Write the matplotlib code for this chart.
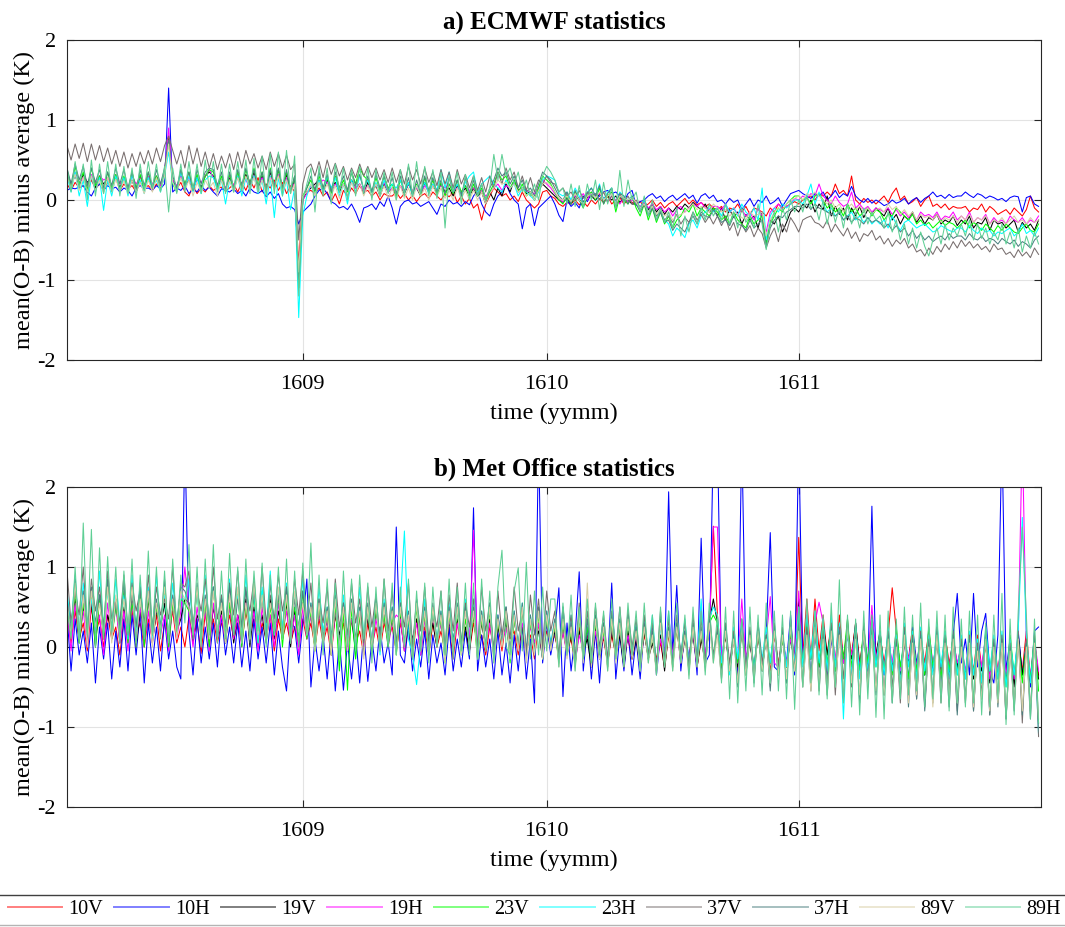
import numpy as np
import matplotlib
matplotlib.use("Agg")
import matplotlib.pyplot as plt
from matplotlib.lines import Line2D

plt.rcParams['font.family'] = ['Liberation Serif', 'DejaVu Serif']
plt.rcParams['axes.unicode_minus'] = False

channels = ['10V', '10H', '19V', '19H', '23V', '23H', '37V', '37H', '89V', '89H']
colors = ['#ff0000', '#0000ff', '#000000', '#ff00ff', '#00ff00', '#00ffff',
          '#786e6e', '#4d8080', '#d9cfa6', '#5fcf95']
tick_days = [31, 61, 92]
tick_labels = ['1609', '1610', '1611']

# ---- panel a (ECMWF), values in 0.01 K, 12-hourly from 2 Aug ----
A_10V = [20,12,22,15,18,10,25,14,20,12,22,16,28,12,20,14,18,10,22,15,
         18,12,20,14,30,80,20,14,22,10,5,18,8,15,10,18,12,15,16,12,
         15,20,10,22,12,25,15,28,10,20,15,25,12,22,8,18,10,-80,5,10,
         12,8,15,5,10,-2,8,-5,12,5,15,8,18,10,12,5,10,0,8,5,
         5,10,2,8,0,6,-2,5,8,2,10,5,0,8,4,10,-3,5,-5,2,
         -10,-5,-25,-5,5,15,10,5,8,0,5,-2,10,0,-5,-10,-5,10,12,5,
         2,-5,-8,-3,-5,0,-6,-2,-8,0,-5,2,-3,5,-5,0,3,-5,0,-3,
         -5,-2,-8,-5,0,-8,-3,-10,-5,-2,-8,-3,2,-5,0,-6,-3,-8,-5,-10,
         -12,-8,-15,-10,-12,-5,-15,-8,-18,-10,-12,-15,-20,-10,-15,-5,-10,-8,-5,-2,
         -5,0,2,5,0,8,5,10,5,20,8,12,5,30,0,-5,2,-3,0,-5,
         0,5,-3,8,15,0,5,-5,-2,3,-8,0,5,-8,-5,-10,-5,-12,-8,-10,
         -10,-8,-15,-10,-12,-5,-15,-8,-12,-18,-15,-12,-18,-10,-15,-20,-12,5,-10,-15]
A_10H = [12,15,14,16,18,10,5,15,20,12,18,14,16,10,15,12,5,15,18,14,
         15,12,18,14,20,140,10,15,12,18,8,14,10,18,12,16,10,5,14,12,
         10,14,8,12,5,15,10,8,12,4,10,2,8,-5,-10,-8,-12,-30,-15,-10,
         -5,5,12,15,8,-2,-5,-10,-8,-12,-5,-15,-28,-10,-8,-5,-12,-2,-8,5,
         -10,-30,-8,-2,0,-5,-3,-8,-5,-2,-10,-18,-5,-8,0,-5,-3,-8,-2,-6,
         5,12,-5,-15,-20,-5,5,10,20,8,0,-5,-36,-10,-5,-32,-10,-5,0,5,
         -5,-19,-27,0,-8,-3,-10,5,-2,8,0,5,10,12,8,10,5,-2,8,12,
         -7,-2,0,5,8,2,5,-2,3,6,0,4,8,2,6,-4,5,8,2,6,
         -2,0,-5,2,-3,0,-12,-5,2,-8,0,-3,5,-5,-2,3,-8,0,8,10,
         12,8,5,2,8,5,10,0,5,12,3,8,5,17,5,0,-3,2,-4,0,
         -3,-7,-5,0,-4,-2,2,-5,0,3,-3,2,5,10,4,6,2,7,3,5,
         5,10,6,3,8,6,2,5,3,0,2,-2,3,5,4,-15,3,5,-5,-8]
A_19V = [35,20,30,18,32,22,28,15,30,20,26,18,30,15,28,12,25,10,30,18,
         28,15,30,18,35,75,25,15,30,18,25,12,28,15,30,35,30,15,25,12,
         28,12,30,15,32,18,35,15,30,12,35,18,38,15,32,10,25,-100,0,10,
         15,20,25,10,25,15,22,10,20,12,25,15,20,8,22,10,18,5,20,10,
         15,5,18,8,20,10,15,5,22,10,18,8,20,10,15,5,18,8,15,5,
         15,5,10,-5,10,0,15,5,20,10,25,12,15,8,10,0,12,20,15,10,
         5,0,-3,2,-5,5,0,-2,3,5,0,8,2,5,0,5,-3,2,0,-5,
         -5,-10,0,-12,-5,-15,-8,-18,-10,-15,-8,-12,-5,-10,-3,-8,-12,-5,-15,-10,
         -20,-10,-25,-12,-22,-15,-30,-18,-25,-20,-35,-15,-55,-25,-30,-20,-40,-28,-15,-10,
         -15,-5,-10,0,-15,-5,-12,5,-20,-8,-18,-10,-25,-10,-20,-8,-22,-12,-18,-10,
         -15,-20,-10,-25,-18,-30,-20,-25,-15,-28,-20,-30,-22,-25,-18,-30,-25,-28,-20,-32,
         -25,-30,-20,-35,-28,-30,-22,-38,-25,-30,-28,-35,-30,-25,-40,-28,-35,-30,-38,-25]
A_19H = [30,18,35,22,28,15,32,20,30,25,28,18,32,20,26,15,30,20,28,18,
         30,20,28,18,35,90,25,18,30,20,28,15,25,22,30,38,28,20,26,15,
         30,18,28,20,25,15,30,18,28,15,30,20,32,15,28,10,22,-100,0,8,
         18,15,20,25,22,10,20,15,18,12,22,15,20,10,18,12,20,15,22,10,
         15,8,18,10,20,12,15,8,18,10,20,12,18,15,20,12,15,10,18,12,
         15,8,12,5,10,15,20,12,18,15,22,10,15,12,10,8,15,25,20,15,
         8,2,-3,5,0,5,2,8,0,10,5,8,2,-2,5,0,-5,3,-2,0,
         -5,-8,-3,-10,-5,-12,-8,-15,-10,-20,-12,-8,-15,-10,-5,-8,-3,-10,-12,-8,
         -8,-12,-5,-15,-10,-18,-12,-20,-15,-25,-10,-20,-40,-15,-10,-5,-12,-8,-5,2,
         0,5,2,8,5,20,5,0,-5,5,-3,-8,-5,10,-10,-5,-12,-8,-15,-10,
         -12,-15,-10,-18,-12,-20,-15,-22,-18,-25,-15,-20,-18,-22,-15,-25,-20,-22,-15,-25,
         -20,-25,-15,-28,-22,-25,-18,-30,-22,-28,-25,-30,-20,-25,-28,-22,-30,-25,-28,-20]
A_23V = [38,15,42,20,35,12,40,18,30,10,35,15,32,12,30,10,35,15,32,12,
         35,15,30,12,32,75,20,10,38,20,35,15,32,12,30,38,35,15,30,10,
         32,12,35,15,38,20,40,18,35,12,40,15,38,12,35,10,30,-110,5,15,
         25,10,30,15,28,8,30,12,25,10,35,20,40,30,25,10,28,12,30,15,
         20,5,25,10,22,8,20,5,28,10,25,8,22,5,20,8,25,10,18,5,
         20,5,15,0,10,20,35,25,30,15,25,10,20,5,10,0,15,30,25,20,
         10,0,-5,5,-5,10,0,-10,5,10,0,15,-5,5,10,-15,5,0,-5,5,
         -10,-20,-5,-25,-10,-28,-15,-30,-20,-35,-25,-20,-10,-15,-5,-20,-10,-15,-20,-10,
         -15,-25,-20,-30,-15,-25,-30,-35,-20,-30,-25,-20,-55,-30,-20,-10,-15,-5,0,5,
         5,0,3,-5,5,8,0,-10,-5,-15,-10,-20,-5,-15,-10,-20,-15,-10,-20,-12,
         -15,-25,-18,-20,-10,-15,-20,-25,-18,-30,-25,-32,-28,-35,-30,-25,-32,-28,-30,-35,
         -30,-25,-35,-28,-32,-38,-30,-35,-40,-32,-38,-30,-35,-40,-42,-35,-30,-38,-40,-30]
A_23H = [30,10,35,5,25,-8,30,10,28,-13,25,5,30,12,28,5,32,10,25,8,
         28,15,25,10,30,60,22,12,35,15,30,10,28,8,25,30,28,12,25,-5,
         25,10,30,5,28,12,30,8,25,-5,30,-22,28,5,25,-12,15,-147,-20,5,
         20,5,25,10,30,15,28,5,20,-5,25,10,30,15,25,10,22,5,25,10,
         20,15,25,10,22,5,18,10,22,8,20,12,38,15,35,10,20,5,22,30,
         35,10,20,25,30,20,15,10,25,15,20,5,15,10,5,0,10,25,30,28,
         25,8,5,10,0,15,5,-5,10,15,5,20,0,10,15,-5,10,5,0,5,
         -5,-10,0,-15,-10,-20,-15,-25,-30,-45,-35,-40,-47,-30,-25,-35,-20,-15,-10,-15,
         -10,-20,-5,-15,-10,-20,-5,-15,-20,-10,-25,15,-50,-20,-10,-15,-5,-10,-5,0,
         0,-5,5,20,-5,10,-5,-15,-10,-20,-15,-25,-20,-15,-25,-20,-28,-22,-30,-25,
         -30,-25,-35,-20,-30,-38,-28,-25,-30,-35,-32,-30,-35,-40,-38,-32,-35,-38,-40,-35,
         -35,-40,-32,-38,-42,-35,-40,-38,-45,-40,-42,-38,-35,-45,-40,-30,-42,-38,-45,-35]
A_37V = [68,50,70,52,71,48,70,50,68,48,65,45,62,42,60,40,58,42,60,45,
         62,45,65,48,68,80,62,45,62,40,68,45,65,42,60,40,58,38,55,40,
         58,38,60,40,62,45,58,40,55,38,60,42,58,40,56,38,45,-50,20,40,
         45,30,48,28,50,32,46,30,42,25,40,28,45,30,42,28,40,25,38,22,
         40,22,38,20,42,25,38,20,40,22,35,18,38,20,35,15,38,20,32,15,
         30,12,28,10,30,15,35,20,40,25,35,15,30,12,28,10,25,20,30,22,
         20,10,15,5,10,0,12,2,10,5,8,0,10,-2,5,-5,8,-3,5,-5,
         0,-10,-5,-15,-8,-20,-15,-25,-20,-28,-18,-30,-22,-28,-15,-25,-18,-28,-20,-30,
         -20,-32,-22,-38,-28,-45,-30,-40,-32,-46,-35,-42,-60,-45,-35,-52,-30,-40,-22,-30,
         -40,-25,-22,-20,-28,-30,-35,-25,-40,-30,-38,-45,-35,-48,-40,-52,-42,-45,-38,-50,
         -45,-55,-48,-58,-50,-55,-48,-60,-55,-65,-62,-70,-60,-68,-58,-65,-55,-62,-52,-60,
         -50,-58,-52,-60,-55,-62,-58,-65,-55,-62,-60,-68,-65,-72,-62,-70,-65,-72,-60,-68]
A_37H = [40,20,45,25,42,18,40,22,38,15,35,18,40,20,38,15,35,12,38,18,
         35,15,38,20,40,75,30,15,38,18,35,12,38,20,35,40,38,18,35,12,
         35,15,38,18,40,20,38,15,35,12,38,18,40,15,38,10,30,-110,0,15,
         30,12,35,15,32,10,35,15,30,12,35,18,32,12,30,10,32,15,30,12,
         28,8,30,10,28,5,25,8,30,12,28,10,25,8,28,10,25,5,28,8,
         25,5,20,0,15,25,40,30,35,20,30,15,25,10,15,5,20,35,30,25,
         15,5,0,10,-5,12,0,-8,8,15,5,18,-5,8,15,-10,8,5,-5,5,
         -5,-15,-5,-20,-10,-25,-15,-28,-25,-38,-30,-35,-40,-28,-20,-30,-15,-20,-22,-12,
         -20,-28,-25,-32,-20,-30,-32,-38,-25,-35,-30,-25,-58,-35,-25,-20,-22,-15,-12,-8,
         -8,-10,-5,-12,-5,-10,-12,-15,-18,-20,-15,-25,-20,-28,-22,-25,-30,-22,-28,-25,
         -28,-35,-30,-38,-32,-40,-35,-45,-38,-48,-42,-50,-45,-52,-48,-45,-50,-42,-48,-45,
         -45,-50,-42,-48,-50,-45,-52,-48,-50,-55,-48,-52,-55,-50,-58,-52,-55,-60,-50,-45]
A_89V = [30,15,32,12,28,10,30,12,25,8,28,10,26,12,24,8,25,10,22,8,
         25,10,28,12,30,70,22,10,28,12,25,5,22,10,25,15,22,5,25,10,
         25,10,28,12,30,15,28,10,25,8,28,12,30,10,25,8,20,-90,5,10,
         20,5,22,8,20,5,18,2,20,5,22,8,20,5,18,3,20,5,18,2,
         15,0,18,2,15,0,18,5,15,0,18,5,15,2,12,0,15,2,12,0,
         12,0,10,-5,8,15,25,20,22,15,20,10,15,5,10,0,12,20,22,18,
         10,2,0,5,-2,8,0,-5,5,8,2,10,0,5,8,-5,5,2,0,3,
         -3,-10,-5,-15,-8,-18,-12,-20,-15,-25,-20,-18,-15,-10,-5,-12,-8,-10,-15,-5,
         -10,-15,-12,-20,-15,-18,-22,-25,-15,-20,-18,-15,-45,-25,-15,-10,-12,-5,0,2,
         5,0,8,5,10,5,0,-5,0,-10,-5,-15,-10,-5,-12,-8,-15,-10,-18,-12,
         -10,-15,-5,-12,-8,-18,-12,-20,-15,-25,-18,-22,-20,-25,-18,-28,-22,-25,-20,-28,
         -20,-25,-18,-28,-22,-25,-20,-30,-25,-28,-22,-30,-25,-20,-28,-25,-30,-22,-28,-25]
A_89H = [40,10,48,15,45,0,50,5,45,8,48,10,45,5,42,8,40,2,45,12,
         48,15,45,10,42,-15,40,8,45,10,48,12,45,8,50,15,48,10,45,8,
         45,10,48,12,50,8,52,10,55,5,58,8,60,5,62,8,55,-120,0,20,
         40,-15,42,5,40,-5,45,10,40,0,38,5,42,8,40,0,38,5,35,8,
         35,0,38,5,45,5,48,8,42,5,38,2,35,-35,30,10,35,-5,32,0,
         30,5,20,0,15,57,25,57,30,40,20,35,10,25,5,20,0,30,42,35,
         25,10,15,-5,20,-8,18,-10,20,0,25,-12,22,-5,15,-10,37,-8,25,0,
         10,-15,5,-20,0,-25,-10,-28,-15,-35,-10,-45,-20,-40,-15,-30,-10,-25,-5,-20,
         -10,-25,-5,-30,-15,-35,-10,-28,-20,-35,-5,-30,-62,-30,-15,-40,-10,-25,0,-15,
         0,-15,5,-10,-5,-25,0,-30,-5,-28,-10,-35,-5,-30,-15,-35,-10,-30,-15,-25,
         -20,-35,-15,-40,-25,-50,-30,-55,-35,-60,-40,-58,-70,-50,-35,-55,-30,-50,-35,-45,
         -30,-45,-25,-50,-30,-48,-35,-55,-40,-50,-30,-55,-40,-60,-35,-65,-45,-60,-40,-55]

# ---- panel b (Met Office), values in 0.01 K, 12-hourly from 2 Aug ----
B_10V = [40,5,45,10,30,-5,50,15,35,0,40,10,25,-10,35,5,45,15,30,0,
         35,10,40,-5,30,15,45,5,25,0,38,12,30,-8,42,10,35,5,30,15,
         40,10,30,5,45,15,35,0,30,10,40,-5,35,10,30,5,25,0,35,10,
         30,0,35,5,25,-10,40,10,30,-5,35,5,20,-10,30,0,25,-5,30,10,
         25,-5,30,0,20,-15,35,5,25,-10,30,0,20,-5,25,-15,30,0,20,-5,
         30,5,15,-10,25,0,30,-5,35,10,20,-10,25,0,15,-15,30,-5,20,0,
         15,-10,20,-5,10,-20,25,-5,15,-15,20,0,10,-20,15,-10,25,-5,10,-15,
         10,-20,15,-10,20,-15,5,-25,15,-10,20,-5,10,-15,30,-25,10,-10,20,151,
         40,-20,15,-25,10,-30,20,-15,5,-25,15,-20,10,-30,15,-20,10,-25,15,-15,
         137,-10,60,-15,60,-5,40,-10,30,-20,40,-15,25,-10,30,-20,15,-25,20,-10,
         15,-20,15,74,20,-30,10,-15,25,-35,15,-20,20,-30,10,-25,15,-20,5,-30,
         10,-35,5,-30,15,-25,0,-40,10,-30,5,-35,0,-45,10,-30,20,-40,5,-35]
B_10H = [40,-30,35,-10,20,-20,30,-45,25,-15,30,-40,20,-25,35,-30,40,-10,45,-45,
         30,-20,25,-30,35,-15,20,-25,-40,260,20,-35,35,-20,25,-15,30,-25,40,-10,
         25,-20,30,-25,20,-30,35,-15,25,-20,30,-35,20,-25,-55,30,25,-20,30,85,
         -50,10,-30,15,-40,20,-55,10,-54,5,-40,15,-45,20,-43,10,-30,25,-20,5,
         -35,150,-10,-20,30,-30,10,-25,20,-40,15,-20,5,-35,25,-30,10,-25,20,-15,
         174,-30,15,-25,10,-40,20,-35,5,-45,15,-30,25,-40,10,-70,260,-20,30,-10,
         20,74,-62,30,-30,15,94,-30,25,-40,20,-45,30,-20,80,-40,15,-30,20,-35,
         10,-40,25,-15,30,-35,15,-20,194,-10,77,-30,20,-15,25,-35,136,-20,-10,262,
         265,-30,20,-25,15,-40,262,-20,10,-35,25,-30,15,143,-25,-30,10,-20,40,-35,
         265,-20,30,-35,15,-25,20,-40,10,-30,25,-15,20,-35,15,-25,10,-30,176,-20,
         10,-35,20,-30,15,-25,5,-40,25,-20,10,-35,15,-30,20,-45,5,-30,15,67,
         -20,10,-35,67,-25,20,42,-30,-45,15,265,-30,10,-40,20,-35,5,-50,20,25]
B_19V = [45,20,60,5,50,25,55,0,65,10,40,20,60,5,50,15,65,0,45,20,
         60,5,45,25,55,0,60,20,35,60,55,5,40,25,60,0,50,20,45,5,
         55,5,40,20,60,0,50,15,40,5,60,10,45,20,55,0,45,10,55,15,
         40,5,45,10,35,0,40,15,45,5,35,-5,40,10,35,0,45,15,40,5,
         35,0,40,-5,30,10,35,-10,40,5,30,0,35,-5,30,10,35,0,25,-5,
         40,-5,30,0,35,-10,25,5,30,-5,35,0,25,-10,30,5,20,-15,40,0,
         20,-15,25,-10,15,-20,20,-5,10,-25,25,-15,15,-20,20,-10,15,-25,20,-15,
         10,-25,20,-15,5,-20,15,-30,20,-10,25,-20,10,-15,15,-25,10,-20,30,60,
         30,-20,15,-30,10,-25,20,-15,5,-30,15,-25,10,-20,20,-30,15,-25,10,-20,
         60,-20,35,-15,20,-25,30,-10,25,-30,20,-20,15,-15,30,-25,15,-20,40,-10,
         20,-30,10,-25,15,-35,5,-20,20,-30,10,-35,15,-25,5,-30,10,-35,15,-25,
         0,-35,10,-40,5,-30,15,-45,0,-35,10,-40,5,-50,15,-35,0,-45,10,-40]
B_19H = [50,-5,55,10,45,0,60,20,40,-10,55,15,50,5,45,-5,55,10,50,0,
         45,5,50,15,40,-5,55,10,45,100,40,0,50,15,45,-5,55,10,40,5,
         50,10,40,0,55,15,45,-5,50,10,40,0,55,15,45,5,40,-10,50,10,
         40,0,45,10,35,-10,45,5,40,-5,35,10,40,0,45,-5,35,5,40,0,
         30,40,35,-5,40,5,30,-10,35,0,40,5,30,-10,35,0,30,-5,35,5,
         146,-5,35,0,30,-10,40,5,25,-5,35,0,30,-10,25,5,30,-15,35,0,
         25,-15,20,-10,30,-20,15,-5,25,-15,20,-10,15,-20,25,-5,20,-15,15,-10,
         15,-20,25,-10,20,-25,10,-15,40,-10,30,-20,15,-15,20,-25,50,-10,25,150,
         150,-15,20,-25,10,-20,60,-15,15,-25,20,-20,10,63,-20,-25,15,-20,10,-15,
         70,-20,40,-15,30,56,30,-25,20,-15,25,-20,15,-10,20,-25,15,-20,52,-15,
         15,-25,10,-20,20,-30,5,-15,15,-25,10,-30,20,-20,5,-35,15,-25,10,-20,
         0,-30,10,-35,5,-25,15,-40,0,-30,10,-35,5,-40,15,265,5,-35,10,-30]
B_23V = [50,15,70,5,55,20,65,0,60,15,75,10,50,20,70,5,55,25,65,0,
         65,10,50,20,70,0,55,15,60,55,45,20,70,10,55,0,75,15,60,5,
         55,15,70,0,50,20,65,5,70,10,50,15,65,0,60,20,50,5,70,10,
         45,-5,50,10,40,-10,55,-30,45,-54,50,-15,40,10,45,-5,50,5,40,0,
         40,-10,45,5,35,-15,50,0,40,-10,45,5,35,-20,40,0,45,-10,35,5,
         40,-15,35,0,45,-10,30,5,40,-20,35,0,45,-10,30,-5,40,-15,35,0,
         25,-20,30,-10,20,-25,35,-15,25,-20,30,-10,20,-25,30,-15,25,-20,30,-10,
         20,-25,25,-15,15,-30,30,-20,20,-25,25,-15,15,-30,25,-20,20,-25,30,40,
         30,-25,20,-30,15,-20,25,-35,10,-25,20,-30,15,-20,25,-30,10,-25,20,-30,
         40,-20,30,-15,35,-25,25,-20,30,-30,20,-15,35,-25,20,-30,25,-20,30,-25,
         20,-30,15,-35,25,-25,10,-40,20,-30,15,-35,25,-25,10,-40,20,-30,15,-35,
         10,-40,15,-35,5,-45,20,-30,10,-40,5,-50,15,-35,10,-45,5,-40,15,-55]
B_23H = [70,25,90,15,80,30,60,20,95,25,70,15,85,30,65,10,90,20,80,25,
         75,10,90,25,65,15,80,30,60,60,85,20,70,10,90,25,75,15,65,25,
         85,20,65,15,90,25,70,5,75,20,95,15,70,25,80,10,65,20,85,15,
         55,0,75,20,50,5,70,-5,65,10,55,0,75,15,50,5,65,-10,60,10,
         50,0,55,145,10,-10,-47,5,60,-5,50,10,45,-10,55,5,50,-5,60,0,
         60,-5,45,0,55,-10,40,5,50,-15,45,0,55,-5,40,-10,50,-15,45,5,
         35,-15,50,-10,40,-20,45,-5,35,-15,40,-10,30,-20,45,-5,35,-15,40,-10,
         30,-20,35,-10,40,-25,25,-15,45,-20,30,-10,35,-20,25,-15,60,-25,35,50,
         40,-20,30,-35,25,-15,35,-25,20,-30,30,-15,25,-20,30,-35,20,-25,30,-20,
         50,-25,40,-15,45,-20,35,-30,40,-25,30,-90,25,-35,30,-40,20,-30,35,-25,
         20,-35,25,-30,15,-45,30,-25,20,-40,25,-30,15,-35,30,-25,20,-40,15,-35,
         15,-40,20,-35,10,-45,25,-30,15,-40,20,-50,10,-35,20,162,15,-45,10,-110]
B_37V = [95,30,70,40,100,20,85,45,75,25,95,35,60,30,90,20,80,45,70,30,
         90,25,75,40,60,35,100,20,80,75,95,25,70,45,85,30,100,35,65,25,
         75,40,95,25,70,45,85,20,100,30,65,35,90,45,75,25,85,40,95,30,
         80,10,60,30,75,5,85,25,55,15,80,30,60,5,75,25,65,10,85,20,
         70,5,55,25,80,0,60,20,75,10,50,25,70,0,65,20,80,5,55,25,
         60,0,75,20,55,-5,70,15,50,10,75,20,45,-5,65,15,60,0,70,20,
         45,-10,50,0,40,-15,55,-5,45,-10,50,0,40,-15,45,-5,50,-10,45,0,
         35,-20,40,-10,30,-25,45,-15,35,-20,40,-10,30,-25,40,-15,35,-20,45,-10,
         25,-35,30,-20,20,-45,35,-25,25,-40,30,-20,15,-50,30,-25,25,-45,35,-30,
         30,-45,25,-40,35,-55,20,-45,30,-60,25,-40,35,-50,20,-65,30,-45,25,-55,
         15,-60,20,-50,10,-70,25,-55,15,-65,20,-75,10,-60,25,-70,15,-55,20,-80,
         10,-65,15,-80,5,-60,20,-85,10,-70,15,-90,5,-75,20,-95,10,-80,15,-112]
B_37H = [60,20,85,15,70,5,75,30,65,20,85,10,55,25,80,15,65,25,75,10,
         70,15,60,25,85,10,65,30,75,70,55,20,80,15,65,20,75,10,60,25,
         80,15,60,25,75,5,70,30,60,10,80,25,65,15,75,5,60,25,70,20,
         55,0,60,10,50,-5,65,5,55,0,60,10,50,-10,55,5,60,0,55,10,
         50,-5,55,5,45,-10,60,0,50,-5,55,5,45,-15,50,0,55,-5,50,5,
         50,-10,45,0,55,-15,40,5,50,-10,45,0,55,-15,40,-5,50,-10,45,0,
         35,-20,40,-10,30,-25,45,-15,35,-20,40,-10,30,-25,40,-15,35,-20,40,-10,
         25,-25,30,-15,20,-30,35,-20,25,-25,30,-15,20,-30,30,-20,25,-25,35,-15,
         20,-40,25,-30,15,-50,30,-35,20,-45,25,-30,15,-55,25,-35,20,-45,30,-30,
         25,-50,20,-55,30,-40,15,-60,25,-50,20,-65,30,-45,15,-70,25,-50,20,-60,
         10,-60,15,-70,5,-55,20,-75,10,-65,15,-80,5,-70,20,-60,10,-75,15,-85,
         5,-70,10,-80,0,-65,15,-85,5,-75,10,-90,0,-80,15,-85,5,-90,10,-95]
B_89V = [55,15,80,10,65,0,70,25,55,15,75,5,65,10,60,20,75,5,60,20,
         70,0,55,20,75,15,60,10,70,60,50,15,75,5,60,10,70,20,55,5,
         65,20,75,5,55,10,80,15,65,5,55,20,75,10,65,5,70,20,55,15,
         50,-5,55,5,45,-10,60,0,50,-5,55,5,45,-15,50,0,55,-5,50,5,
         45,-10,50,0,40,-15,55,-5,45,-10,50,0,40,-20,45,-5,50,-10,45,0,
         45,-15,40,-5,50,-20,35,0,45,-15,40,-5,50,-20,35,-10,45,-15,40,-5,
         30,-25,35,-15,25,-30,40,-20,80,-25,35,-15,25,-30,35,-20,30,-25,35,-15,
         20,-30,25,-20,15,-35,30,-25,20,-30,25,-20,15,-35,25,-25,20,-30,30,-20,
         15,-40,20,-30,10,-45,25,-35,15,-40,20,-30,10,-45,20,-35,15,-40,25,-30,
         20,-50,15,-55,25,-45,10,-60,20,-50,15,-55,25,-45,10,-60,20,-50,15,-55,
         5,-60,10,-65,0,-55,15,-70,5,-60,10,-65,0,-75,15,-60,5,-65,10,-70,
         0,-70,5,-75,-5,-65,10,-80,0,-70,5,-85,-5,-75,10,-80,0,-80,5,-90]
B_89H = [50,10,100,5,155,15,147,0,124,10,113,20,100,5,95,15,110,0,90,10,
         120,15,100,10,95,5,110,20,90,30,128,10,100,0,110,15,128,5,95,10,
         117,15,100,5,110,10,95,20,105,0,90,15,100,10,110,5,95,0,105,15,
         130,0,90,-10,85,5,80,-15,95,0,85,-5,90,10,80,-20,75,-5,85,0,
         80,-10,75,0,85,-15,70,-5,80,-20,75,0,70,-10,85,-15,75,-5,80,-10,
         80,-15,85,-5,70,-20,75,121,0,-10,70,99,-5,106,-15,70,-10,75,-5,60,
         60,-25,55,-10,65,-30,50,-15,60,-20,55,-10,45,-30,60,-15,50,-25,55,-10,
         45,-30,55,-20,40,-35,50,-25,45,-30,55,-20,40,-40,50,-25,45,-35,55,-20,
         40,-45,50,-65,45,-70,35,-55,50,-50,40,-60,55,-45,45,-55,40,-65,45,-78,
         50,-50,60,-45,45,-60,40,-65,55,-50,84,-70,40,-75,35,-85,45,-65,40,-88,
         40,-90,45,-70,35,-65,50,-60,40,-55,55,-75,35,-65,45,-70,40,-80,50,-70,
         35,-75,45,-70,40,-85,30,-75,40,-65,67,-97,35,-85,45,150,40,-90,35,-95]

panel_a = [A_10V, A_10H, A_19V, A_19H, A_23V, A_23H, A_37V, A_37H, A_89V, A_89H]
panel_b = [B_10V, B_10H, B_19V, B_19H, B_23V, B_23H, B_37V, B_37H, B_89V, B_89H]

W, H = 1065, 927
fig = plt.figure(figsize=(W / 100, H / 100), dpi=100)
ax_a = fig.add_axes([67 / W, 1 - 360 / H, (1041 - 67) / W, 320 / H])
ax_b = fig.add_axes([67 / W, 1 - 807 / H, (1041 - 67) / W, 320 / H])


def style(ax, title):
    ax.set_xlim(2, 121.8)
    ax.set_ylim(-2, 2)
    ax.set_yticks([-2, -1, 0, 1, 2])
    ax.set_xticks(tick_days)
    ax.set_xticklabels(tick_labels)
    ax.grid(True, color='#e3e3e3', lw=0.8)
    ax.set_axisbelow(True)
    ax.tick_params(direction='in', top=True, right=True, length=5, width=0.8,
                   color='#262626', labelsize=16)
    ax.tick_params(axis='x', pad=10.5)
    ax.tick_params(axis='y', pad=8)
    for s in ax.spines.values():
        s.set_color('#262626')
        s.set_linewidth(0.8)
    ax.set_title(title, fontsize=18, fontweight='bold', pad=8)
    ax.set_xlabel('time (yymm)', fontsize=17.5, labelpad=7)
    ax.set_ylabel('mean(O-B) minus average (K)', fontsize=17.5, labelpad=1.5)


for vals, col, lab in zip(panel_a, colors, channels):
    t = 2 + 0.5 * np.arange(len(vals))
    ax_a.plot(t, np.array(vals) / 100.0, color=col, lw=0.75, label=lab)
for vals, col, lab in zip(panel_b, colors, channels):
    t = 2 + 0.5 * np.arange(len(vals))
    ax_b.plot(t, np.array(vals) / 100.0, color=col, lw=0.75, label=lab)

style(ax_a, 'a) ECMWF statistics')
style(ax_b, 'b) Met Office statistics')

handles = [Line2D([], [], color=c, lw=1.4, alpha=0.5) for c in colors]
leg = fig.legend(handles, channels, loc='upper left',
                 bbox_to_anchor=(3 / W, 2 / H, 1063 / W, 30 / H),
                 mode='expand', ncol=10, fontsize=14.5, frameon=False,
                 handlelength=2.7, handletextpad=0.3, borderaxespad=0,
                 borderpad=0.25, columnspacing=0.5)

fig.add_artist(Line2D([0, 1], [1 - 895 / H] * 2, transform=fig.transFigure,
                      color='#404040', lw=1.0))
fig.add_artist(Line2D([0, 1], [1 - 925 / H] * 2, transform=fig.transFigure,
                      color='#b4b4b4', lw=1.0))

fig.savefig('out.png', dpi=100)
